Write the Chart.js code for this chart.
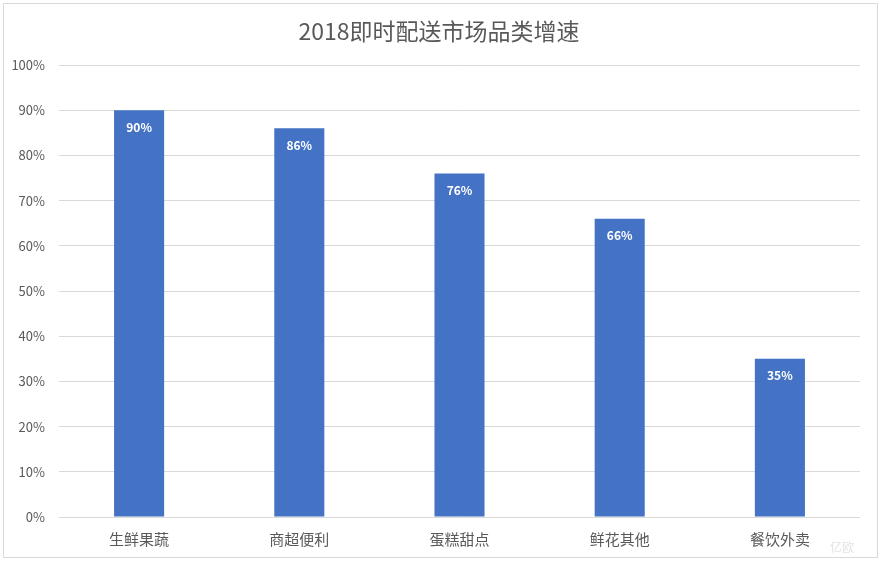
<!DOCTYPE html>
<html>
<head>
<meta charset="utf-8">
<script src="https://cdn.jsdelivr.net/npm/chart.js@4"></script>
<style>
  html, body { margin: 0; padding: 0; background: #fff; }
  #wrap { width: 881px; height: 561px; }
</style>
</head>
<body>
<div id="wrap"><canvas id="chart"></canvas></div>
<script>
// 数据
const categories = ["生鲜果蔬", "商超便利", "蛋糕甜点", "鲜花其他", "餐饮外卖"];
const growth = [90, 86, 76, 66, 35];
const titleText = "2018即时配送市场品类增速";

const FONT = "'Noto Sans CJK SC', 'Noto Sans', sans-serif";

// 背景、边框、标题和柱内数值
const frame = {
  id: "frame",
  beforeDraw(chart) {
    const ctx = chart.ctx;
    ctx.save();
    ctx.fillStyle = "#fff";
    ctx.fillRect(0, 0, chart.width, chart.height);
    ctx.strokeStyle = "#d9d9d9";
    ctx.lineWidth = 1;
    ctx.strokeRect(3.5, 3.5, chart.width - 7, chart.height - 7);
    ctx.restore();
  },
  afterDraw(chart) {
    const ctx = chart.ctx;
    const meta = chart.getDatasetMeta(0);
    ctx.save();
    // 标题
    ctx.fillStyle = "#595959";
    ctx.font = "23px " + FONT;
    ctx.textAlign = "center";
    ctx.textBaseline = "middle";
    ctx.fillText(titleText, 439, 31);
    // 柱内数值
    ctx.fillStyle = "#fff";
    ctx.font = "bold 12px " + FONT;
    meta.data.forEach((bar, i) => {
      ctx.fillText(growth[i] + "%", bar.x, bar.y + 17);
    });
    // 水印
    ctx.fillStyle = "rgba(200,200,200,0.5)";
    ctx.font = "12px " + FONT;
    ctx.fillText("亿欧", 842, 547);
    ctx.restore();
  }
};

new Chart(document.getElementById("chart"), {
  type: "bar",
  data: {
    labels: categories,
    datasets: [{
      data: growth,
      backgroundColor: "#4472C4",
      barPercentage: 1,
      categoryPercentage: 0.3125,
    }],
  },
  options: {
    responsive: true,
    maintainAspectRatio: false,
    animation: false,
    layout: { padding: { left: 0, right: 21, top: 65, bottom: 0 } },
    plugins: {
      legend: { display: false },
      tooltip: { enabled: false },
      title: { display: false },
    },
    scales: {
      x: {
        grid: { display: false },
        border: { display: false },
        ticks: { color: "#595959", font: { family: FONT, size: 15 }, padding: 5 },
        afterFit: s => { s.height = 44; },
      },
      y: {
        min: 0,
        max: 100,
        ticks: {
          stepSize: 10,
          color: "#595959",
          font: { family: FONT, size: 13 },
          padding: 14,
          callback: v => v + "%",
        },
        grid: { color: "#d9d9d9", drawTicks: false },
        border: { display: false },
        afterFit: s => { s.width = 59; },
      },
    },
  },
  plugins: [frame],
});
</script>
</body>
</html>
